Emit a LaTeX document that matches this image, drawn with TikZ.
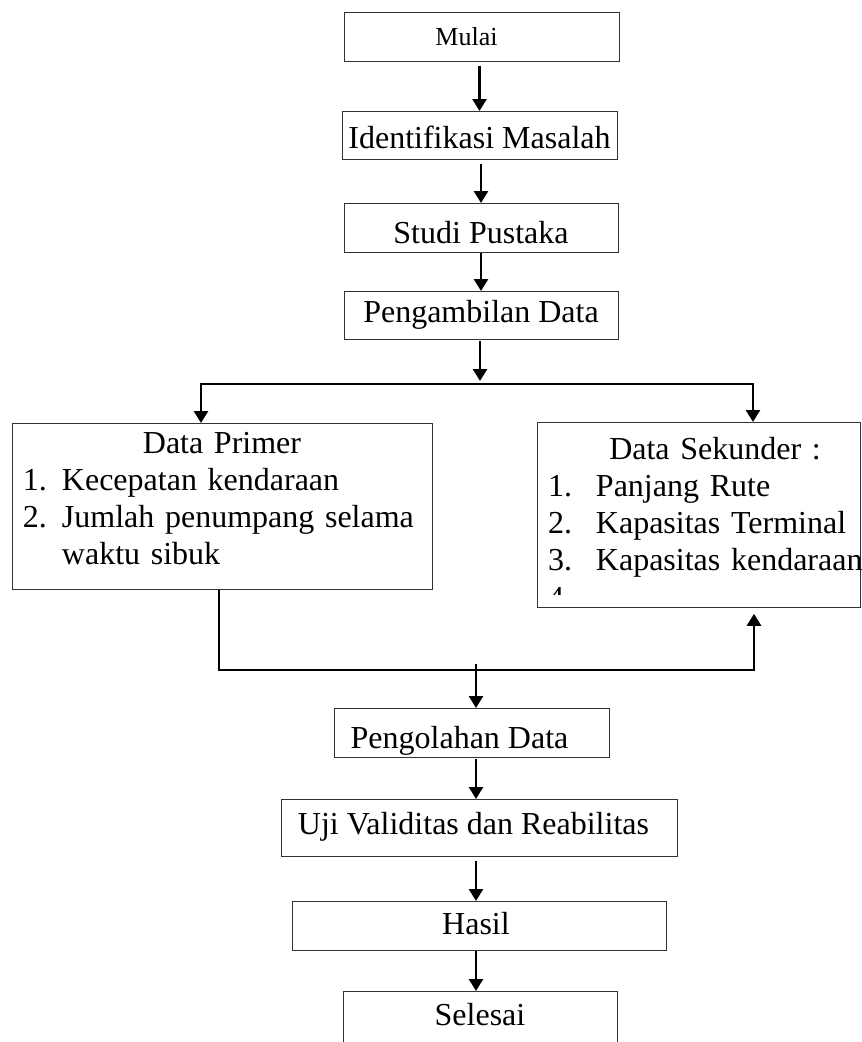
\documentclass[tikz,border=0pt]{standalone}
\usepackage{fontspec}
\setmainfont{Liberation Serif}
\usetikzlibrary{arrows.meta}
\providecommand{\nomor}[1]{\makebox[39pt][l]{#1}}
\providecommand{\nomorb}[1]{\makebox[48pt][l]{#1}}

\begin{document}
\begin{tikzpicture}[x=1pt,y=-1pt,
    box/.style={draw=black!80, line width=0.8pt, anchor=north,
      inner xsep=0pt, inner ysep=0pt,
      font=\fontsize{32pt}{37pt}\selectfont},
    arr/.style={line width=2.6pt, shorten <=4pt,
      -{Triangle[width=14pt,length=12pt]}}
  ]
  \clip (0,0) rectangle (862,1042);
  \node[box, minimum width=275pt, text height=33pt, text depth=16pt,
    font=\fontsize{26pt}{30pt}\selectfont] (mulai) at (481.5,12) {Mulai\hspace*{30pt}};
  \node[box, minimum width=275pt, text height=37pt, text depth=11pt] (masalah) at (479.5,111) {Identifikasi Masalah};
  \node[box, minimum width=274pt, text height=40pt, text depth=9pt] (pustaka) at (481,203) {Studi Pustaka};
  \node[box, minimum width=274pt, text height=31pt, text depth=17pt] (ambil) at (481,291) {Pengambilan Data};
  \node[box, inner xsep=11pt, text width=398pt, text height=30pt, text depth=136pt] (primer) at (222,423) {%
    {\centering Data Primer\par}\raggedright
    \nomor{1.}Kecepatan kendaraan\par
    \nomor{2.}\makebox[355pt][s]{Jumlah penumpang selama}\par
    \hspace*{39pt}waktu sibuk};
  \node[box, inner xsep=11pt, text width=301pt, text height=37pt, text depth=148pt] (sekunder) at (698.5,422) {%
    {\centering\hspace*{33pt}Data Sekunder :\par}\raggedright
    \mbox{\nomorb{1.}Panjang Rute}\par
    \mbox{\nomorb{2.}Kapasitas Terminal}\par
    \mbox{\nomorb{3.}Kapasitas kendaraan}};
  \begin{scope}
    \clip (537,560) rectangle (860,594);
    \node[anchor=base west, inner sep=0pt, font=\fontsize{32pt}{37pt}\selectfont] (sek4) at (548,608) {4.};
  \end{scope}
  \node[box, minimum width=275pt, text height=40pt, text depth=9pt] (olah) at (471.5,708) {Pengolahan Data\hspace*{24pt}};
  \node[box, minimum width=396pt, text height=35pt, text depth=22pt] (uji) at (479,799) {Uji Validitas dan Reabilitas\hspace*{11pt}};
  \node[box, minimum width=374pt, text height=33pt, text depth=16pt] (hasil) at (479,901) {Hasil\hspace*{6pt}};
  \node[box, minimum width=274pt, text height=34pt, text depth=40pt] (selesai) at (480,991) {Selesai};

  \coordinate (pisah) at (480,384);
  \coordinate (kiri) at (201,384);
  \coordinate (kanan) at (753,384);
  \coordinate (gabung) at (219,670);
  \coordinate (naik) at (754,670);
  \coordinate (turun) at (476,664);

  \draw[arr] (mulai.south -| masalah.north) -- (masalah.north);
  \draw[arr] (masalah.south -| pustaka.north) -- (pustaka.north);
  \draw[arr, shorten <=0pt] (pustaka.south) -- (ambil.north);
  \draw[arr, shorten <=1pt, shorten >=3pt] (ambil.south -| pisah) -- (pisah);
  \draw[arr, shorten <=0pt] (pisah) -| (kiri |- primer.north);
  \draw[arr, shorten <=0pt] (pisah) -| (kanan |- sekunder.north);
  \draw[arr, shorten <=0pt, shorten >=6pt] (primer.south -| gabung) -- (gabung) -- (naik) -- (naik |- sekunder.south);
  \draw[arr, shorten <=0pt] (turun) -- (turun |- olah.north);
  \draw[arr, shorten <=1pt] (olah.south -| turun) -- (uji.north -| turun);
  \draw[arr] (uji.south -| turun) -- (hasil.north -| turun);
  \draw[arr, shorten <=0pt] (hasil.south -| turun) -- (selesai.north -| turun);
\end{tikzpicture}
\end{document}
